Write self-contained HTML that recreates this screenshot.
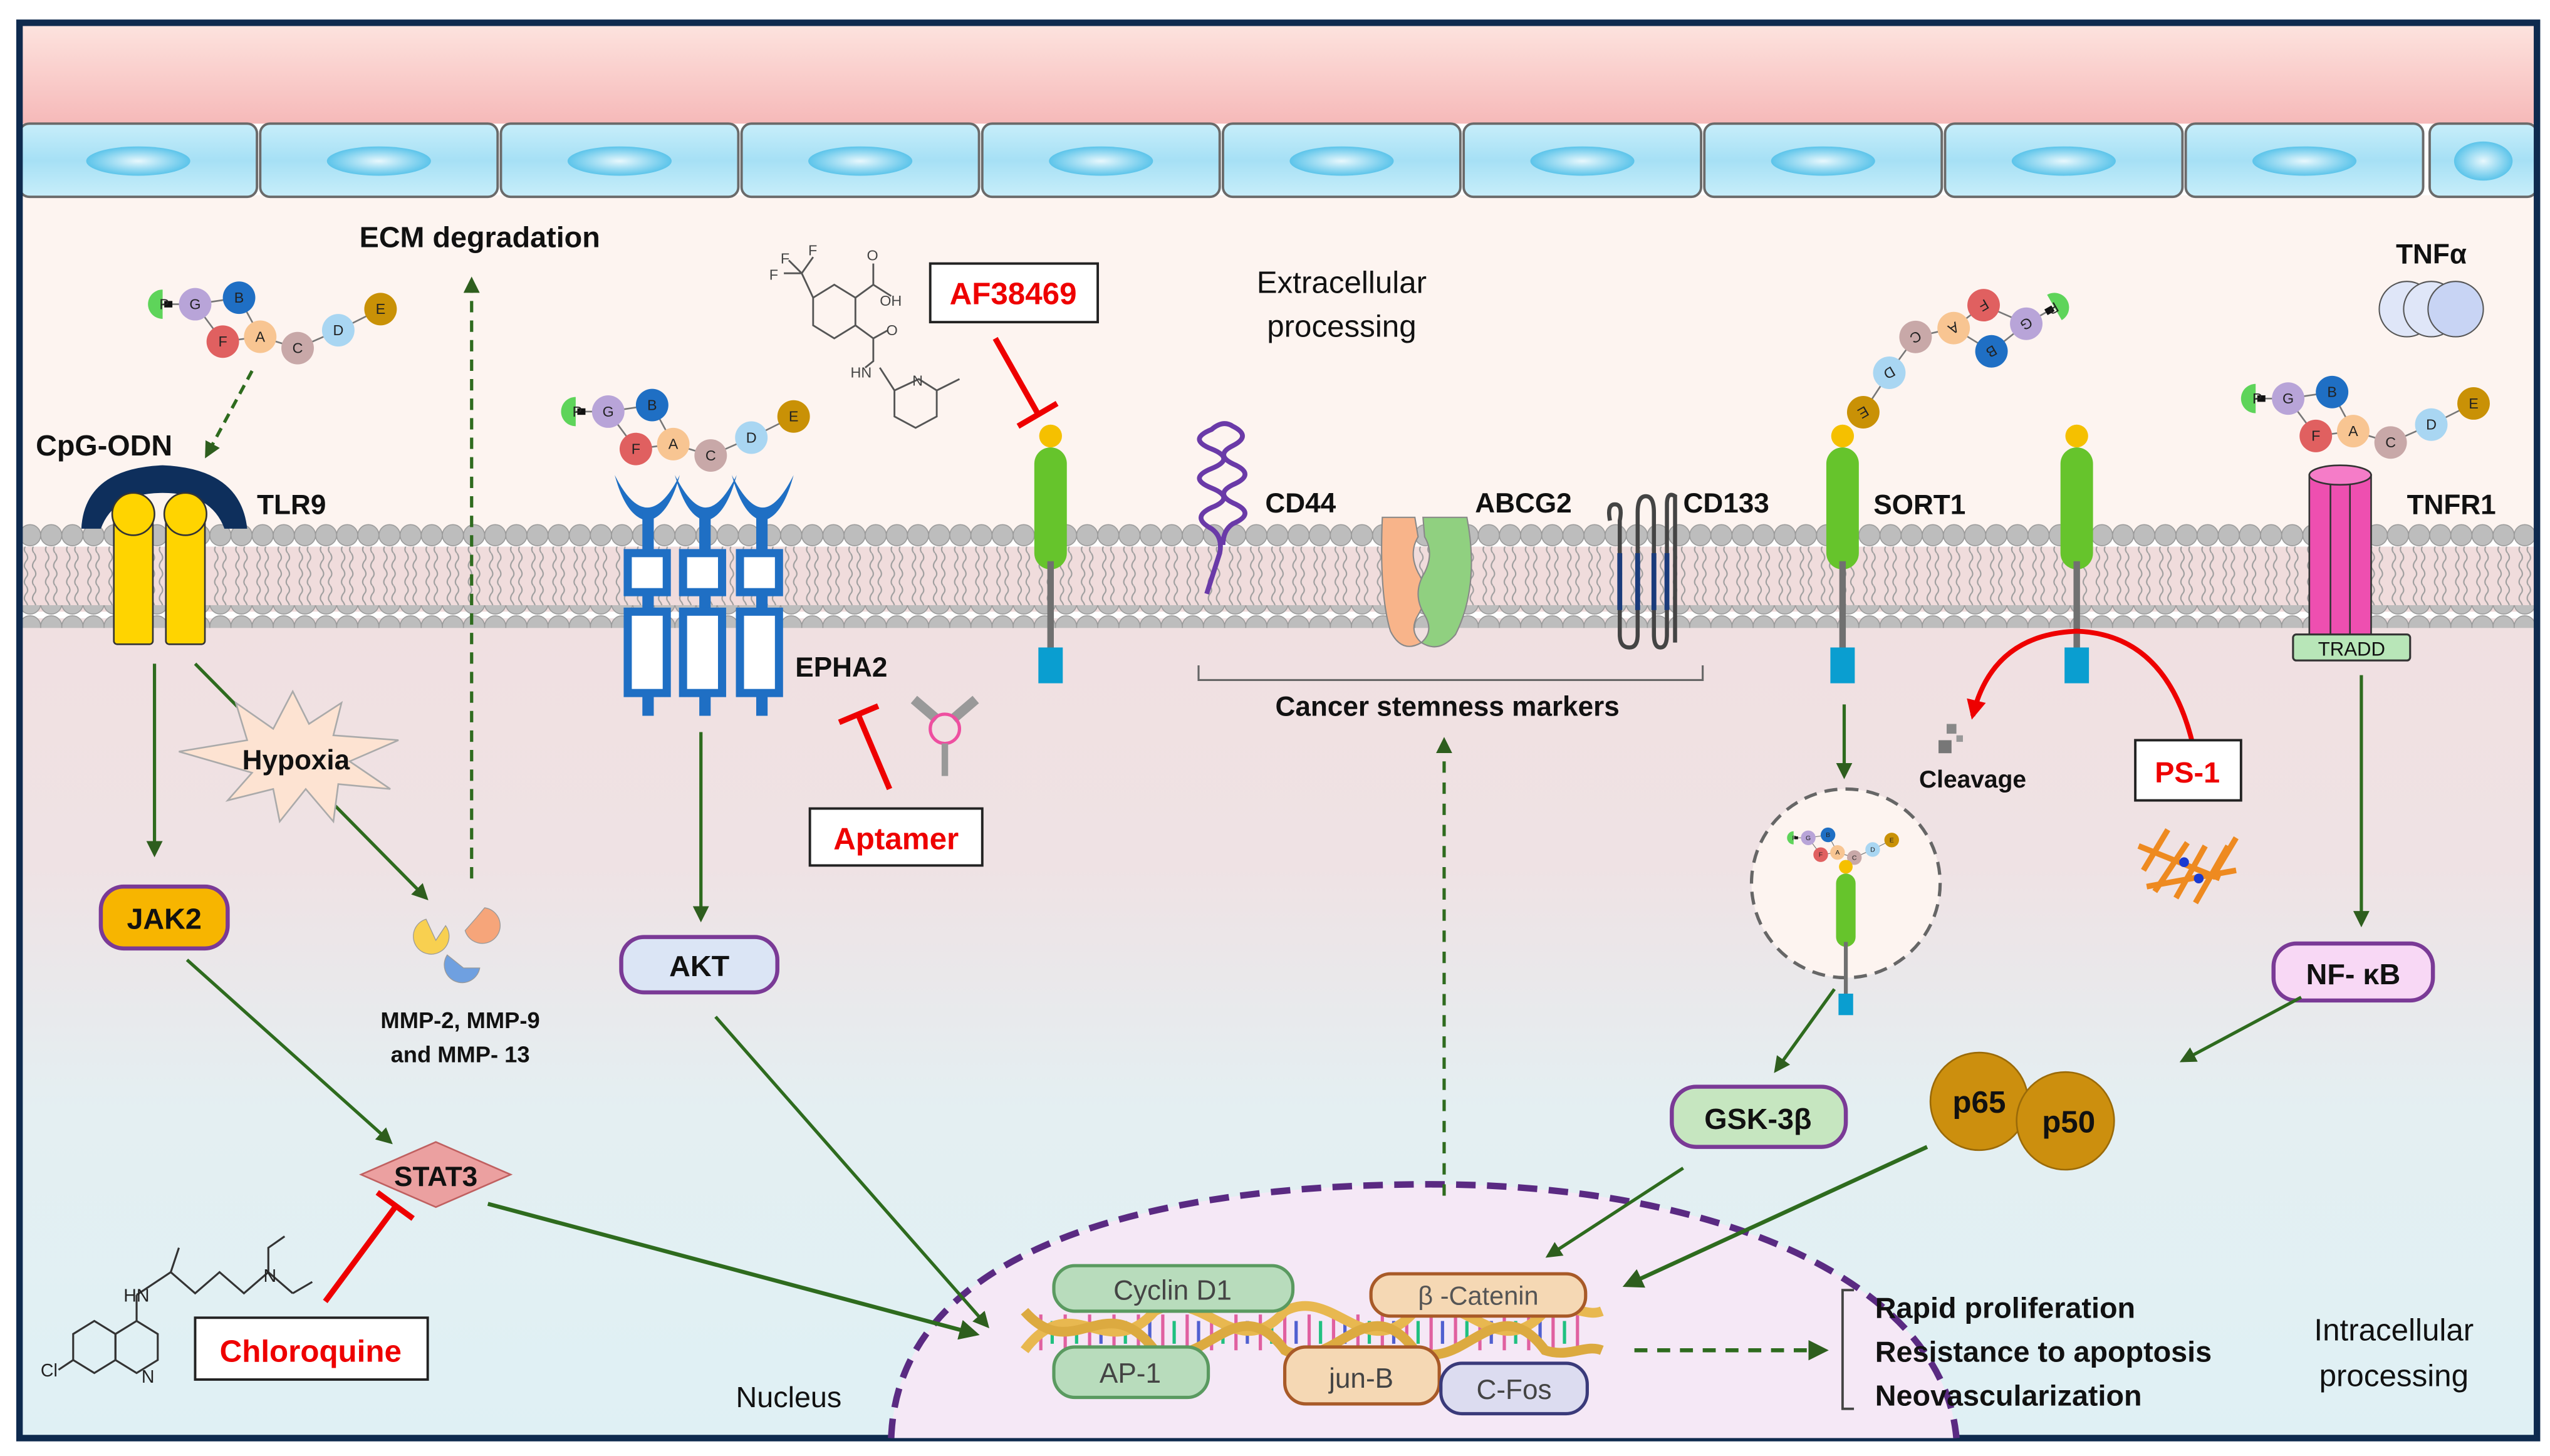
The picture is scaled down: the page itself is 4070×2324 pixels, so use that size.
<!DOCTYPE html>
<html><head><meta charset="utf-8"><style>
html,body{margin:0;padding:0;background:#fff;}
svg{display:block;}
text{font-family:"Liberation Sans",sans-serif;}
</style></head><body>
<svg width="4070" height="2324" viewBox="0 0 1568 895" preserveAspectRatio="none" xmlns="http://www.w3.org/2000/svg">
<defs>
<linearGradient id="pink" x1="0" y1="0" x2="0" y2="1"><stop offset="0" stop-color="#fde4df"/><stop offset="1" stop-color="#f6b9b9"/></linearGradient>
<linearGradient id="cell" x1="0" y1="0" x2="0" y2="1"><stop offset="0" stop-color="#c8eefa"/><stop offset="0.5" stop-color="#a6e0f5"/><stop offset="1" stop-color="#c8eefa"/></linearGradient>
<radialGradient id="nuc"><stop offset="0" stop-color="#e8f8fd"/><stop offset="1" stop-color="#5cc4ea"/></radialGradient>
<linearGradient id="inner" x1="0" y1="0" x2="0" y2="1"><stop offset="0" stop-color="#f0e0e1"/><stop offset="0.3" stop-color="#efe2e4"/><stop offset="0.6" stop-color="#e4eff2"/><stop offset="1" stop-color="#dff0f4"/></linearGradient>
<pattern id="heads" x="12" y="0" width="13" height="14" patternUnits="userSpaceOnUse"><circle cx="6.5" cy="7" r="6.5" fill="#bdbdbd" stroke="#9a9a9a" stroke-width="0.6"/></pattern>
<pattern id="tails" x="12" y="0" width="13" height="20" patternUnits="userSpaceOnUse"><path d="M4 0 q2 3 0 5 q-2 3 0 5 q2 3 0 5 q-2 3 0 5 M9 0 q2 3 0 5 q-2 3 0 5 q2 3 0 5 q-2 3 0 5" fill="none" stroke="#9e9e9e" stroke-width="0.8"/></pattern>
<marker id="ag" viewBox="0 0 10 10" refX="8" refY="5" markerWidth="5" markerHeight="5" orient="auto"><path d="M0 0 L10 5 L0 10 z" fill="#2e5e1e"/></marker>
<marker id="ar" viewBox="0 0 10 10" refX="8" refY="5" markerWidth="4" markerHeight="4" orient="auto"><path d="M0 0 L10 5 L0 10 z" fill="#e00"/></marker>
<g id="chain">
<path d="M0 0 L22 0 L39 23 L62 20 L85 27 L110 16 L136 3 M22 0 L49 -4 L62 20" stroke="#777" stroke-width="1" fill="none"/>
<path d="M2 -9 A9 9 0 0 0 2 9 Z" fill="#5ed45a"/><rect x="3" y="-2" width="5" height="4" fill="#111"/>
<circle cx="22" cy="0" r="10" fill="#b8a4d8"/><circle cx="49" cy="-4" r="10" fill="#1f6fc4"/>
<circle cx="39" cy="23" r="10" fill="#e06060"/><circle cx="62" cy="20" r="10" fill="#f8c592"/>
<circle cx="85" cy="27" r="10" fill="#c8a8a8"/><circle cx="110" cy="16" r="10" fill="#a9d6f2"/>
<circle cx="136" cy="3" r="10" fill="#c99106"/>
<g font-size="9" text-anchor="middle" fill="#222"><text x="3" y="3">P</text><text x="22" y="3">G</text><text x="49" y="-1">B</text><text x="39" y="26">F</text><text x="62" y="23">A</text><text x="85" y="30">C</text><text x="110" y="19">D</text><text x="136" y="6">E</text></g>
</g>
<g id="sort">
<circle cx="0" cy="-7" r="7" fill="#f5c000"/>
<rect x="-10" y="0" width="20" height="75" rx="10" fill="#66c42c"/>
<rect x="-2" y="70" width="4" height="55" fill="#707070"/>
<rect x="-7.5" y="123" width="15" height="22" fill="#0a9ed0"/>
</g>
</defs>

<rect width="1568" height="895" fill="#fff"/>
<rect x="12" y="380" width="1548" height="504" fill="url(#inner)"/>
<rect x="12" y="14" width="1548" height="62" fill="url(#pink)"/>
<rect x="12" y="120" width="1548" height="210" fill="#fdf4f0"/>
<g stroke="#6a6a6a" stroke-width="1.5">
<rect x="12" y="76" width="146" height="45" rx="6" fill="url(#cell)"/><rect x="160" y="76" width="146" height="45" rx="6" fill="url(#cell)"/><rect x="308" y="76" width="146" height="45" rx="6" fill="url(#cell)"/><rect x="456" y="76" width="146" height="45" rx="6" fill="url(#cell)"/><rect x="604" y="76" width="146" height="45" rx="6" fill="url(#cell)"/><rect x="752" y="76" width="146" height="45" rx="6" fill="url(#cell)"/><rect x="900" y="76" width="146" height="45" rx="6" fill="url(#cell)"/><rect x="1048" y="76" width="146" height="45" rx="6" fill="url(#cell)"/><rect x="1196" y="76" width="146" height="45" rx="6" fill="url(#cell)"/><rect x="1344" y="76" width="146" height="45" rx="6" fill="url(#cell)"/><rect x="1494" y="76" width="66" height="45" rx="6" fill="url(#cell)"/>
</g>
<g fill="url(#nuc)"><ellipse cx="85" cy="99" rx="32" ry="9"/><ellipse cx="233" cy="99" rx="32" ry="9"/><ellipse cx="381" cy="99" rx="32" ry="9"/><ellipse cx="529" cy="99" rx="32" ry="9"/><ellipse cx="677" cy="99" rx="32" ry="9"/><ellipse cx="825" cy="99" rx="32" ry="9"/><ellipse cx="973" cy="99" rx="32" ry="9"/><ellipse cx="1121" cy="99" rx="32" ry="9"/><ellipse cx="1269" cy="99" rx="32" ry="9"/><ellipse cx="1417" cy="99" rx="32" ry="9"/><ellipse cx="1527" cy="99" rx="18" ry="12"/></g>

<rect x="12" y="336" width="1548" height="40" fill="#f0dcdc"/>
<rect x="12" y="336" width="1548" height="20" fill="url(#tails)"/>
<rect x="12" y="356" width="1548" height="20" fill="url(#tails)"/>
<rect x="12" y="322" width="1548" height="14" fill="url(#heads)"/>
<rect x="12" y="372" width="1548" height="14" fill="url(#heads)"/>

<rect x="12" y="14" width="1548" height="870" fill="none" stroke="#0e2a4e" stroke-width="4"/>

<path d="M548 884 C552 770 700 728 880 728 C1060 728 1195 790 1203 884 Z" fill="#f5e8f6"/>
<path d="M548 884 C552 770 700 728 880 728 C1060 728 1195 790 1203 884" fill="none" stroke="#5a2a82" stroke-width="4" stroke-dasharray="12 7"/>

<text x="295" y="152" font-size="18" font-weight="bold" text-anchor="middle" fill="#111">ECM degradation</text>
<text x="825" y="180" font-size="19" text-anchor="middle" fill="#111" font-family="Liberation Serif,serif">Extracellular</text>
<text x="825" y="207" font-size="19" text-anchor="middle" fill="#111" font-family="Liberation Serif,serif">processing</text>
<line x1="290" y1="540" x2="290" y2="172" stroke="#2e6b1e" stroke-width="2" stroke-dasharray="7 5" marker-end="url(#ag)"/>

<use href="#chain" x="98" y="187"/>
<line x1="155" y1="228" x2="127" y2="280" stroke="#2e6b1e" stroke-width="2" stroke-dasharray="6 4" marker-end="url(#ag)"/>
<text x="22" y="280" font-size="18" font-weight="bold" fill="#111">CpG-ODN</text>
<text x="158" y="316" font-size="17" font-weight="bold" fill="#111">TLR9</text>
<path d="M50 325 Q52 288 100 286 Q148 288 152 325 L138 325 Q130 303 100 303 Q70 303 62 325 Z" fill="#0e2f5c"/>
<rect x="70" y="310" width="24" height="86" rx="2" fill="#ffd400" stroke="#333" stroke-width="1"/>
<rect x="102" y="310" width="24" height="86" rx="2" fill="#ffd400" stroke="#333" stroke-width="1"/>
<circle cx="82" cy="316" r="13" fill="#ffd400" stroke="#333"/><circle cx="114" cy="316" r="13" fill="#ffd400" stroke="#333"/>

<line x1="95" y1="408" x2="95" y2="525" stroke="#2e6b1e" stroke-width="2" marker-end="url(#ag)"/>
<line x1="120" y1="408" x2="262" y2="552" stroke="#2e6b1e" stroke-width="2" marker-end="url(#ag)"/>
<polygon points="180,425 190,445 210,432 205,452 245,455 215,468 240,485 208,482 205,505 188,485 172,505 168,485 140,492 155,475 110,462 152,455 145,432 168,448" fill="#fde3d2" stroke="#aaa" stroke-width="1"/>
<text x="182" y="473" font-size="17" font-weight="bold" text-anchor="middle" fill="#111">Hypoxia</text>

<rect x="62" y="545" width="78" height="38" rx="14" fill="#f7b500" stroke="#7a3a96" stroke-width="2.5"/>
<text x="101" y="571" font-size="18" font-weight="bold" text-anchor="middle" fill="#111">JAK2</text>
<line x1="115" y1="590" x2="240" y2="702" stroke="#2e6b1e" stroke-width="2" marker-end="url(#ag)"/>
<polygon points="222,722 268,702 314,722 268,742" fill="#eba0a0" stroke="#c06060" stroke-width="1"/>
<text x="268" y="729" font-size="17" font-weight="bold" text-anchor="middle" fill="#111">STAT3</text>
<line x1="300" y1="740" x2="600" y2="820" stroke="#2e6b1e" stroke-width="2.5" marker-end="url(#ag)"/>
<line x1="200" y1="800" x2="243" y2="742" stroke="#e00" stroke-width="3.5"/>
<line x1="232" y1="733" x2="254" y2="749" stroke="#e00" stroke-width="3.5"/>
<rect x="120" y="810" width="143" height="38" fill="#fff" stroke="#222" stroke-width="1.5"/>
<text x="191" y="837" font-size="19" font-weight="bold" text-anchor="middle" fill="#e00">Chloroquine</text>
<g stroke="#333" stroke-width="1.2" fill="none">
<polygon points="45,820 58,812 71,820 71,836 58,844 45,836"/><polygon points="71,820 84,812 97,820 97,836 84,844 71,836"/>
<path d="M84 812 L84 796 M45 836 L36 842 M84 796 L105 782 L110 767 M105 782 L120 795 L135 782 L150 795 L165 782 L180 795 M165 782 L165 767 L175 760 M180 795 L192 788"/>
</g>
<g font-size="11" fill="#222"><text x="76" y="800">HN</text><text x="25" y="846">Cl</text><text x="162" y="788">N</text><text x="87" y="850">N</text></g>

<path d="M262 565 a11 11 0 1 0 12 4 l-6 9 z" fill="#f8d050" stroke="#999" stroke-width="0.5"/>
<path d="M298 558 a11 11 0 1 1 -12 14 l7 -8 z" fill="#f6a57a" stroke="#999" stroke-width="0.5"/>
<path d="M275 587 a11 11 0 1 0 20 8 l-10 0 z" fill="#6fa0e0" stroke="#999" stroke-width="0.5"/>
<text x="283" y="632" font-size="14" font-weight="bold" text-anchor="middle" fill="#111">MMP-2, MMP-9</text>
<text x="283" y="653" font-size="14" font-weight="bold" text-anchor="middle" fill="#111">and MMP- 13</text>

<use href="#chain" x="352" y="253"/>
<g fill="#1f6fc4">
<path d="M378 292 Q385 318 398 320 Q411 318 418 292 Q408 312 398 312 Q388 312 378 292 Z"/>
<path d="M415 292 Q422 318 434 320 Q446 318 453 292 Q443 312 434 312 Q425 312 415 292 Z"/>
<path d="M450 292 Q457 318 469 320 Q481 318 488 292 Q478 312 469 312 Q460 312 450 292 Z"/>
<rect x="395" y="315" width="7" height="125"/><rect x="430" y="315" width="7" height="125"/><rect x="465" y="315" width="7" height="125"/>
</g>
<g fill="#fff" stroke="#1f6fc4" stroke-width="5">
<rect x="386" y="340" width="24" height="24"/><rect x="386" y="376" width="24" height="50"/>
<rect x="420" y="340" width="24" height="24"/><rect x="420" y="376" width="24" height="50"/>
<rect x="455" y="340" width="24" height="24"/><rect x="455" y="376" width="24" height="50"/>
</g>
<text x="489" y="416" font-size="17" font-weight="bold" fill="#111">EPHA2</text>
<line x1="431" y1="450" x2="431" y2="565" stroke="#2e6b1e" stroke-width="2" marker-end="url(#ag)"/>
<rect x="382" y="576" width="96" height="34" rx="14" fill="#dbe5f5" stroke="#7a3a96" stroke-width="2.5"/>
<text x="430" y="600" font-size="18" font-weight="bold" text-anchor="middle" fill="#111">AKT</text>
<line x1="440" y1="625" x2="607" y2="815" stroke="#2e6b1e" stroke-width="2" marker-end="url(#ag)"/>
<line x1="547" y1="485" x2="528" y2="440" stroke="#e00" stroke-width="3.5"/>
<line x1="516" y1="444" x2="540" y2="434" stroke="#e00" stroke-width="3.5"/>
<path d="M562 430 l14 12 M600 430 l-14 12" stroke="#999" stroke-width="6"/>
<circle cx="581" cy="448" r="9" fill="none" stroke="#ee4fa0" stroke-width="2"/>
<rect x="579" y="457" width="4" height="20" fill="#999"/>
<rect x="498" y="497" width="106" height="35" fill="#fff" stroke="#222" stroke-width="1.5"/>
<text x="551" y="522" font-size="19" font-weight="bold" text-anchor="middle" fill="#e00">Aptamer</text>
<g stroke="#555" stroke-width="1.1" fill="none">
<polygon points="500,183 513,175 526,183 526,200 513,208 500,200"/>
<path d="M500 183 L493 168 L485 160 M493 168 L500 158 M493 168 L482 168 M526 183 L537 175 L537 162 M537 175 L548 182 M526 200 L537 208 L546 203 M537 208 L537 222 L532 226 M541 226 L550 240 L550 256 L563 263 L576 256 L576 240 L565 233 L550 240 M576 240 L590 233"/>
</g>
<g font-size="9" fill="#444"><text x="480" y="162">F</text><text x="497" y="157">F</text><text x="473" y="172">F</text><text x="533" y="160">O</text><text x="541" y="188">OH</text><text x="545" y="206">O</text><text x="523" y="232">HN</text><text x="561" y="237">N</text></g>
<rect x="572" y="162" width="103" height="36" fill="#fff" stroke="#222" stroke-width="1.5"/>
<text x="623" y="187" font-size="19" font-weight="bold" text-anchor="middle" fill="#e00">AF38469</text>
<line x1="612" y1="208" x2="638" y2="254" stroke="#e00" stroke-width="3.5"/>
<line x1="626" y1="262" x2="650" y2="248" stroke="#e00" stroke-width="3.5"/>
<use href="#sort" x="646" y="275"/>

<path d="M742 365 L750 340 Q752 330 745 325 Q732 318 745 312 Q760 306 745 300 Q730 294 745 288 Q760 282 745 276 Q730 270 745 264 Q752 258 758 262 Q770 268 758 274 Q746 280 760 286 Q772 292 758 298 Q746 304 760 310 Q772 316 758 322 Q752 326 752 335" fill="none" stroke="#6a3aa8" stroke-width="3"/>
<text x="778" y="315" font-size="17" font-weight="bold" fill="#111">CD44</text>
<path d="M850 318 L870 318 L872 330 Q866 340 872 352 Q880 365 872 378 Q866 388 874 395 Q862 402 855 388 Q848 365 850 318 Z" fill="#f8b48a" stroke="#888" stroke-width="0.8"/>
<path d="M875 318 L902 318 Q910 360 895 390 Q885 402 874 395 Q882 388 876 378 Q868 365 876 352 Q882 340 876 330 Z" fill="#90d080" stroke="#888" stroke-width="0.8"/>
<text x="907" y="315" font-size="17" font-weight="bold" fill="#111">ABCG2</text>
<path d="M990 320 Q988 310 993 310 Q998 310 996 320 L996 390 Q996 398 1002 398 Q1007 398 1007 390 L1007 315 Q1007 305 1012 305 Q1017 305 1017 315 L1017 390 Q1017 398 1021 398 Q1025 398 1025 390 L1025 310 Q1025 302 1030 305 L1030 395" fill="none" stroke="#444" stroke-width="2.5"/>
<g stroke="#1a3a7a" stroke-width="3"><line x1="996" y1="340" x2="996" y2="375"/><line x1="1007" y1="340" x2="1007" y2="375"/><line x1="1017" y1="340" x2="1017" y2="375"/><line x1="1025" y1="340" x2="1025" y2="375"/></g>
<text x="1035" y="315" font-size="17" font-weight="bold" fill="#111">CD133</text>
<path d="M737 409 L737 418 L1047 418 L1047 409" fill="none" stroke="#666" stroke-width="1.2"/>
<text x="890" y="440" font-size="17" font-weight="bold" text-anchor="middle" fill="#111">Cancer stemness markers</text>
<line x1="888" y1="735" x2="888" y2="455" stroke="#2e6b1e" stroke-width="2" stroke-dasharray="7 6" marker-end="url(#ag)"/>

<use href="#chain" transform="translate(1265 188) rotate(150)"/>
<use href="#sort" x="1133" y="275"/>
<use href="#sort" x="1277" y="275"/>
<text x="1152" y="316" font-size="17" font-weight="bold" fill="#111">SORT1</text>
<path d="M1350 465 Q1335 390 1277 388 Q1225 390 1213 440" fill="none" stroke="#e00" stroke-width="3" marker-end="url(#ar)"/>
<rect x="1197" y="445" width="6" height="6" fill="#888"/><rect x="1192" y="455" width="8" height="8" fill="#777"/><rect x="1203" y="452" width="4" height="4" fill="#999"/>
<text x="1213" y="484" font-size="15" font-weight="bold" text-anchor="middle" fill="#111">Cleavage</text>
<rect x="1313" y="455" width="65" height="37" fill="#fff" stroke="#222" stroke-width="1.5"/>
<text x="1345" y="481" font-size="18" font-weight="bold" text-anchor="middle" fill="#e00">PS-1</text>
<g fill="none" stroke="#ee8a20" stroke-width="3.5"><path d="M1318 535 l15 -25 M1325 548 l20 -30 M1338 552 l18 -32 M1350 555 l20 -35 M1360 540 l15 -25 M1315 520 l50 20 M1320 545 l55 -10"/></g>
<circle cx="1343" cy="530" r="3" fill="#1a3ad0"/><circle cx="1352" cy="540" r="3" fill="#1a3ad0"/>
<line x1="1134" y1="433" x2="1134" y2="477" stroke="#2e6b1e" stroke-width="2" marker-end="url(#ag)"/>
<circle cx="1135" cy="543" r="58" fill="#fdf4f0" stroke="#666" stroke-width="2" stroke-dasharray="8 5"/>
<use href="#chain" transform="translate(1102 515) scale(0.45)"/>
<g transform="translate(1135 537) scale(0.6)"><use href="#sort"/></g>
<line x1="1128" y1="608" x2="1092" y2="658" stroke="#2e6b1e" stroke-width="2" marker-end="url(#ag)"/>
<rect x="1028" y="668" width="107" height="37" rx="15" fill="#c6e6c0" stroke="#7a3a96" stroke-width="2.5"/>
<text x="1081" y="694" font-size="18" font-weight="bold" text-anchor="middle" fill="#111">GSK-3β</text>
<line x1="1035" y1="718" x2="952" y2="772" stroke="#2e6b1e" stroke-width="2" marker-end="url(#ag)"/>

<text x="1495" y="162" font-size="17" font-weight="bold" text-anchor="middle" fill="#111">TNFα</text>
<g stroke="#555" stroke-width="0.8"><ellipse cx="1480" cy="190" rx="17" ry="17" fill="#dfe6f8"/><ellipse cx="1495" cy="190" rx="17" ry="17" fill="#dfe6f8"/><ellipse cx="1510" cy="190" rx="17" ry="17" fill="#c8d4f4"/></g>
<use href="#chain" x="1385" y="245"/>
<rect x="1420" y="292" width="38" height="100" fill="#ee4fb0" stroke="#333" stroke-width="1"/>
<ellipse cx="1439" cy="292" rx="19" ry="6" fill="#f57cc8" stroke="#333" stroke-width="1"/>
<line x1="1433" y1="298" x2="1433" y2="390" stroke="#333"/><line x1="1445" y1="298" x2="1445" y2="390" stroke="#333"/>
<rect x="1410" y="390" width="72" height="16" rx="2" fill="#b8e6b8" stroke="#333" stroke-width="1.2"/>
<text x="1446" y="403" font-size="12" text-anchor="middle" fill="#111">TRADD</text>
<text x="1480" y="316" font-size="17" font-weight="bold" fill="#111">TNFR1</text>
<line x1="1452" y1="415" x2="1452" y2="568" stroke="#2e6b1e" stroke-width="2" marker-end="url(#ag)"/>
<rect x="1398" y="580" width="98" height="35" rx="14" fill="#f8d8f5" stroke="#7a3a96" stroke-width="2.5"/>
<text x="1447" y="605" font-size="18" font-weight="bold" text-anchor="middle" fill="#111">NF- κB</text>
<line x1="1415" y1="613" x2="1342" y2="652" stroke="#2e6b1e" stroke-width="2" marker-end="url(#ag)"/>
<circle cx="1217" cy="677" r="30" fill="#cc8f0e" stroke="#9a6a08" stroke-width="1"/>
<circle cx="1270" cy="689" r="30" fill="#cc8f0e" stroke="#9a6a08" stroke-width="1"/>
<text x="1217" y="684" font-size="19" font-weight="bold" text-anchor="middle" fill="#111">p65</text>
<text x="1272" y="696" font-size="19" font-weight="bold" text-anchor="middle" fill="#111">p50</text>
<line x1="1185" y1="705" x2="1000" y2="790" stroke="#2e6b1e" stroke-width="2.5" marker-end="url(#ag)"/>

<g>
<g stroke-width="2"><path d="M640 808 L640 830 M655 808 L655 830 M670 808 L670 830 M685 808 L685 830 M700 808 L700 830 M715 808 L715 830 M730 808 L730 830 M745 808 L745 830 M760 808 L760 830 M775 808 L775 830 M790 808 L790 830 M805 808 L805 830 M820 808 L820 830 M835 808 L835 830 M850 808 L850 830 M865 808 L865 830 M880 808 L880 830 M895 808 L895 830 M910 808 L910 830 M925 808 L925 830 M940 808 L940 830 M955 808 L955 830 M970 808 L970 830" stroke="#e060a0"/>
<path d="M647 812 L647 826 M662 812 L662 826 M692 812 L692 826 M722 812 L722 826 M752 812 L752 826 M782 812 L782 826 M812 812 L812 826 M842 812 L842 826 M872 812 L872 826 M902 812 L902 826 M932 812 L932 826 M962 812 L962 826" stroke="#20c080"/>
<path d="M677 812 L677 826 M707 812 L707 826 M737 812 L737 826 M767 812 L767 826 M797 812 L797 826 M827 812 L827 826 M857 812 L857 826 M887 812 L887 826 M917 812 L917 826 M947 812 L947 826" stroke="#5060d0"/></g>
<path d="M630 830 C660 790 680 840 710 806 C740 790 760 840 790 806 C820 790 840 840 870 806 C900 790 920 840 950 806 C965 800 975 810 985 806" fill="none" stroke="#e8b850" stroke-width="6"/>
<path d="M630 806 C660 840 680 790 710 830 C740 845 760 790 790 830 C820 845 840 790 870 830 C900 845 920 790 950 830 C965 835 975 826 985 830" fill="none" stroke="#dcaa40" stroke-width="6"/>
</g>
<rect x="648" y="778" width="147" height="28" rx="13" fill="#b8dcbc" stroke="#5a9a60" stroke-width="2"/>
<text x="721" y="799" font-size="17" text-anchor="middle" fill="#444">Cyclin D1</text>
<rect x="648" y="828" width="95" height="31" rx="13" fill="#b8dcbc" stroke="#5a9a60" stroke-width="2"/>
<text x="695" y="850" font-size="17" text-anchor="middle" fill="#444">AP-1</text>
<rect x="843" y="783" width="132" height="26" rx="12" fill="#f5d8b4" stroke="#a85a28" stroke-width="2"/>
<text x="909" y="802" font-size="16" text-anchor="middle" fill="#555">β -Catenin</text>
<rect x="790" y="828" width="95" height="35" rx="13" fill="#f5d8b4" stroke="#a85a28" stroke-width="2"/>
<text x="837" y="853" font-size="17" text-anchor="middle" fill="#444">jun-B</text>
<rect x="886" y="838" width="90" height="31" rx="13" fill="#dcdcf0" stroke="#3a3a7a" stroke-width="2"/>
<text x="931" y="860" font-size="17" text-anchor="middle" fill="#444">C-Fos</text>
<text x="485" y="865" font-size="18" text-anchor="middle" fill="#111" font-family="Liberation Serif,serif">Nucleus</text>

<line x1="1005" y1="830" x2="1122" y2="830" stroke="#2e6b1e" stroke-width="2.5" stroke-dasharray="8 6" marker-end="url(#ag)"/>
<path d="M1140 793 L1133 793 L1133 866 L1140 866" fill="none" stroke="#444" stroke-width="1.5"/>
<g font-size="18" font-weight="bold" fill="#111"><text x="1153" y="810">Rapid proliferation</text><text x="1153" y="837">Resistance to apoptosis</text><text x="1153" y="864">Neovascularization</text></g>
<text x="1472" y="824" font-size="19" text-anchor="middle" fill="#111" font-family="Liberation Serif,serif">Intracellular</text>
<text x="1472" y="852" font-size="19" text-anchor="middle" fill="#111" font-family="Liberation Serif,serif">processing</text>
</svg>
</body></html>
